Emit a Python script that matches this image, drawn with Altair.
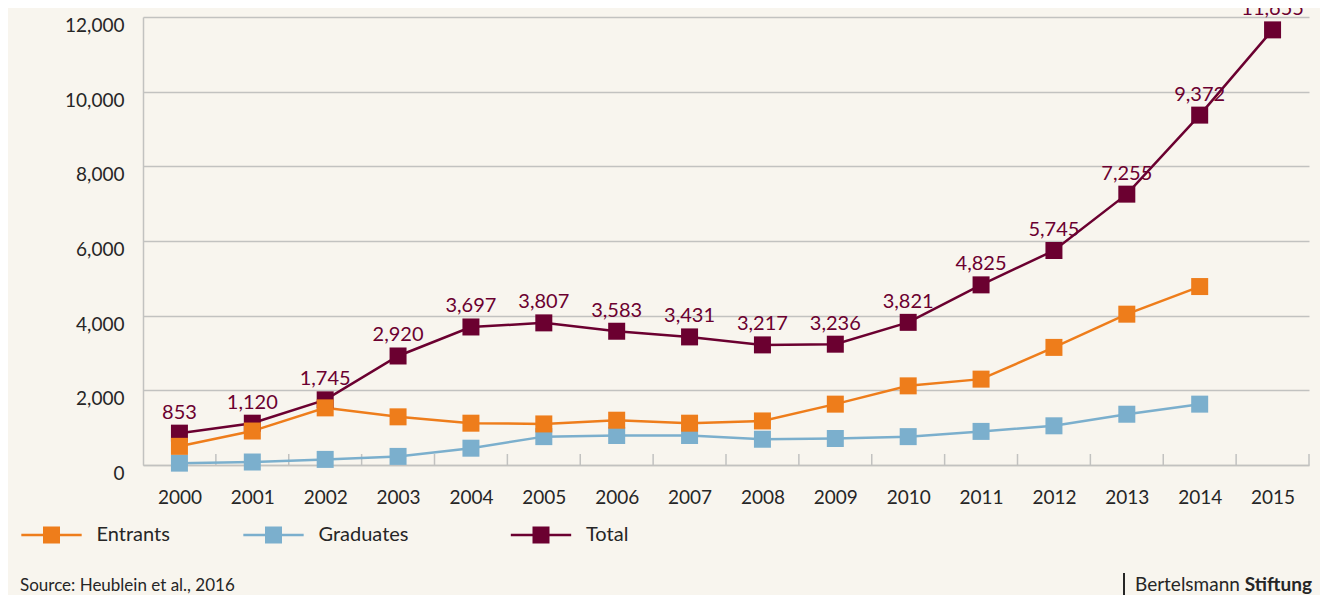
import altair as alt
import pandas as pd

years = [str(y) for y in range(2000, 2016)]
entrants = [500, 910, 1530, 1290, 1120, 1100, 1200, 1120, 1180, 1630, 2120, 2300, 3150, 4040, 4780, None]
graduates = [50, 80, 150, 230, 450, 760, 790, 790, 690, 710, 760, 900, 1050, 1360, 1630, None]
total = [853, 1120, 1745, 2920, 3697, 3807, 3583, 3431, 3217, 3236, 3821, 4825, 5745, 7255, 9372, 11655]
series = ["Entrants", "Graduates", "Total"]
colors = ["#EE7D1B", "#7BAFCD", "#6B0030"]
y_ticks = [0, 2000, 4000, 6000, 8000, 10000, 12000]
source_text = "Source: Heublein et al., 2016"
brand_a = "Bertelsmann"
brand_b = "Stiftung"

W, H = 1166, 448
FONT = "Lato"
TXT = "#262626"
GRID = "#C2C2C0"

rows = []
for name, vals in [("Total", total), ("Graduates", graduates), ("Entrants", entrants)]:
    for yr, v in zip(years, vals):
        if v is not None:
            rows.append({"year": yr, "series": name, "value": v})
df = pd.DataFrame(rows)
df_total = df[df["series"] == "Total"]
df_eg = df[df["series"] != "Total"]
df_years = pd.DataFrame({"year": years})

step = W / len(years)

x_enc = alt.X("year:O", sort=years,
              scale=alt.Scale(type="point", padding=0.5),
              axis=alt.Axis(title=None, labelAngle=0, ticks=False, grid=False,
                            domain=True, domainColor=GRID, domainWidth=1.5,
                            labelPadding=23, labelFontSize=19, labelFont=FONT,
                            labelColor=TXT))
y_enc = alt.Y("value:Q", scale=alt.Scale(domain=[0, 12000], nice=False),
              axis=alt.Axis(title=None, values=y_ticks, format=",d", ticks=False,
                            grid=True, gridColor=GRID, gridWidth=1.5,
                            domain=True, domainColor=GRID, domainWidth=1.5,
                            labelPadding=19, labelOffset=8.5, labelFontSize=19,
                            labelFont=FONT, labelColor=TXT))

legend_path = "M-3.55,-0.15H3.55V0.15H-3.55Z M-1,-1H1V1H-1Z"


def make_legend(lx):
    return alt.Legend(title=None, orient="none", legendX=lx, legendY=508,
                      direction="horizontal", symbolType=legend_path,
                      symbolSize=289, symbolStrokeWidth=0, symbolOpacity=1,
                      labelOffset=35, columnPadding=72,
                      labelFontSize=20, labelFont=FONT, labelColor=TXT, padding=0)


lines = alt.Chart(df).mark_line(strokeWidth=2.5).encode(
    x=x_enc, y=y_enc,
    color=alt.Color("series:N", scale=alt.Scale(domain=series, range=colors), legend=None),
    detail="series:N",
)

points_total = alt.Chart(df_total).mark_point(shape="square", filled=True, size=289,
                                              opacity=1).encode(
    x=x_enc, y=y_enc,
    color=alt.Color("series:N", scale=alt.Scale(domain=series[2:], range=colors[2:]),
                    legend=make_legend(388)),
)

points_eg = alt.Chart(df_eg).mark_point(shape="square", filled=True, size=289,
                                        opacity=1).encode(
    x=x_enc, y=y_enc,
    color=alt.Color("series:N", scale=alt.Scale(domain=series[:2], range=colors[:2]),
                    legend=make_legend(-101.5)),
)

labels = alt.Chart(df_total).mark_text(baseline="alphabetic", dy=-14.5, fontSize=20,
                                       font=FONT, color="#6B0030").encode(
    x=x_enc, y=y_enc, text=alt.Text("value:Q", format=","))

ticks = alt.Chart(df_years).mark_rule(color=GRID, strokeWidth=1.5, xOffset=step / 2).encode(
    x=x_enc, y=alt.value(H - 11), y2=alt.value(H))

src = alt.Chart(pd.DataFrame({"t": [source_text]})).mark_text(
    align="left", baseline="alphabetic", fontSize=17, font=FONT, color=TXT).encode(
    x=alt.value(-123), y=alt.value(574), text="t:N")

brand1 = alt.Chart(pd.DataFrame({"t": [brand_a]})).mark_text(
    align="left", baseline="alphabetic", fontSize=19, font=FONT, color=TXT).encode(
    x=alt.value(992), y=alt.value(574), text="t:N")
brand2 = alt.Chart(pd.DataFrame({"t": [brand_b]})).mark_text(
    align="right", baseline="alphabetic", fontSize=19, font=FONT, fontWeight="bold",
    color=TXT).encode(
    x=alt.value(1169), y=alt.value(574), text="t:N")
bar = alt.Chart(pd.DataFrame({"t": [brand_a]})).mark_rule(color=TXT, strokeWidth=2).encode(
    x=alt.value(981), y=alt.value(556), y2=alt.value(580))

chart = alt.layer(ticks, lines, points_total, points_eg, labels, src, brand1, brand2,
                  bar).resolve_scale(color="independent").resolve_legend(
    color="independent"
).properties(
    width=W, height=H,
    padding={"left": 135, "top": 9, "right": 11, "bottom": 130},
    autosize=alt.AutoSizeParams(type="none"),
    background="#F8F5EE",
).configure_view(stroke=None)

chart.save("out.html", embed_options={"renderer": "svg", "actions": False})
